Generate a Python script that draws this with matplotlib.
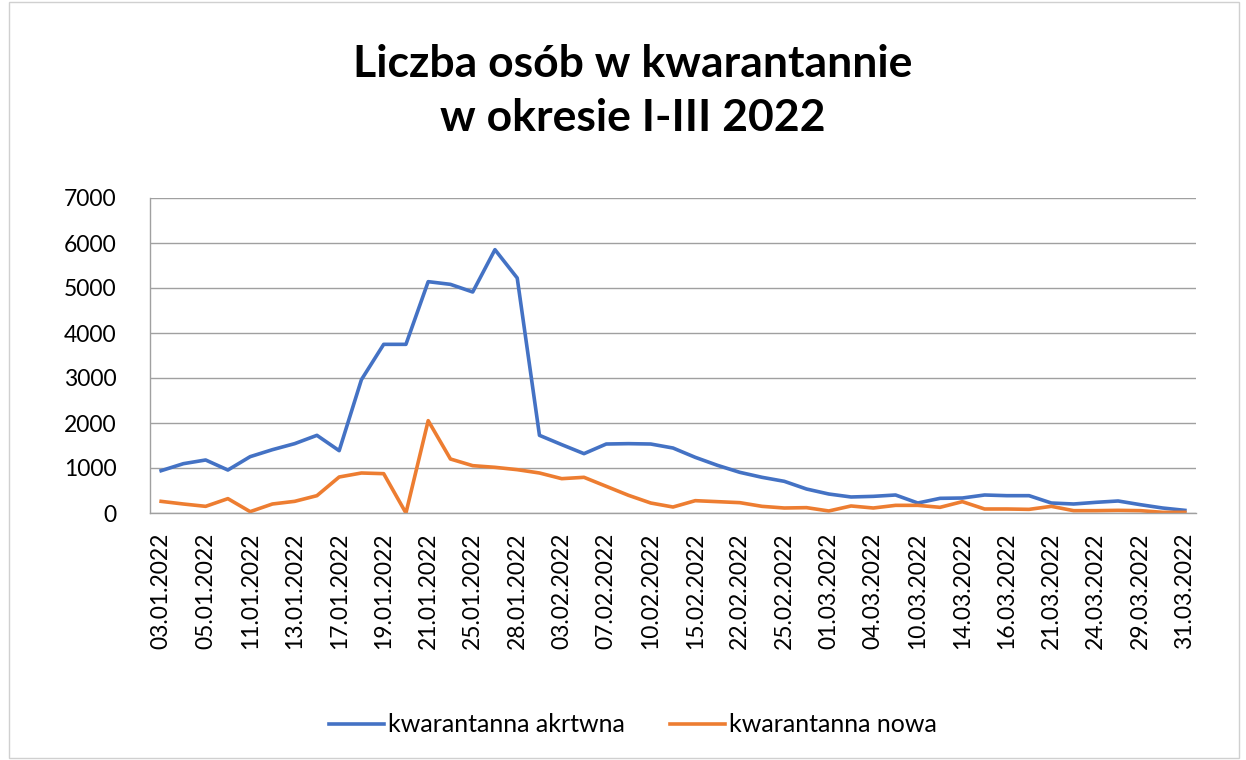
import matplotlib.pyplot as plt
from matplotlib.patches import Rectangle

# Dane (47 dni, co druga data podpisana)
daty = ['03.01.2022', '05.01.2022', '11.01.2022', '13.01.2022', '17.01.2022',
        '19.01.2022', '21.01.2022', '25.01.2022', '28.01.2022', '03.02.2022',
        '07.02.2022', '10.02.2022', '15.02.2022', '22.02.2022', '25.02.2022',
        '01.03.2022', '04.03.2022', '10.03.2022', '14.03.2022', '16.03.2022',
        '21.03.2022', '24.03.2022', '29.03.2022', '31.03.2022']

aktywna = [940, 1096, 1178, 955, 1252, 1407, 1541, 1726, 1385, 2963,
           3748, 3748, 5141, 5081, 4911, 5852, 5222, 1726, 1519, 1319,
           1533, 1541, 1533, 1444, 1237, 1059, 904, 793, 704, 533,
           422, 356, 370, 400, 222, 326, 333, 400, 385, 385,
           222, 200, 237, 267, 185, 111, 59]

nowa = [259, 200, 148, 319, 30, 200, 259, 385, 800, 889,
        874, 0, 2052, 1200, 1052, 1015, 963, 889, 763, 793,
        593, 393, 222, 133, 274, 252, 230, 148, 111, 119,
        45, 156, 111, 170, 170, 126, 252, 89, 89, 81,
        148, 52, 52, 59, 52, 15, 15]

plt.rcParams['font.family'] = ['Lato', 'DejaVu Sans']

fig = plt.figure(figsize=(12.46, 7.6), dpi=100)
ax = fig.add_axes([150 / 1246, 1 - 513 / 760, 1046 / 1246, 315 / 760])

x = list(range(len(aktywna)))
ax.plot(x, aktywna, color='#4472C4', linewidth=2.6, label='kwarantanna akrtwna')
ax.plot(x, nowa, color='#ED7D31', linewidth=2.6, label='kwarantanna nowa')

ax.set_xlim(-0.5, len(aktywna) - 0.5)
ax.set_ylim(0, 7000)
ax.set_yticks(range(0, 7001, 1000))
ax.set_xticks(range(0, len(aktywna), 2))
ax.set_xticklabels(daty, rotation=90)
ax.tick_params(axis='both', length=0, labelsize=16.5)
ax.tick_params(axis='x', pad=14)
ax.tick_params(axis='y', pad=24)

ax.grid(axis='y', color='#a0a0a0', linewidth=1)
ax.set_axisbelow(True)
for s in ['top', 'right']:
    ax.spines[s].set_visible(False)
for s in ['left', 'bottom']:
    ax.spines[s].set_color('#a0a0a0')
    ax.spines[s].set_linewidth(1)

fig.text(0.508, 1 - 91 / 760, 'Liczba osób w kwarantannie\nw okresie I-III 2022',
         ha='center', va='center', fontsize=32, fontweight='bold', linespacing=1.45)

fig.legend(loc='center', bbox_to_anchor=(0.508, 1 - 725 / 760), ncol=2,
           frameon=False, fontsize=18, handlelength=2.2, handletextpad=0.15,
           columnspacing=1.8)

fig.patches.append(Rectangle((9 / 1246, 0.002), 1230 / 1246, 0.996,
                             transform=fig.transFigure, fill=False,
                             edgecolor='#d0d0d0', linewidth=1))

fig.savefig('out.png', dpi=100)
